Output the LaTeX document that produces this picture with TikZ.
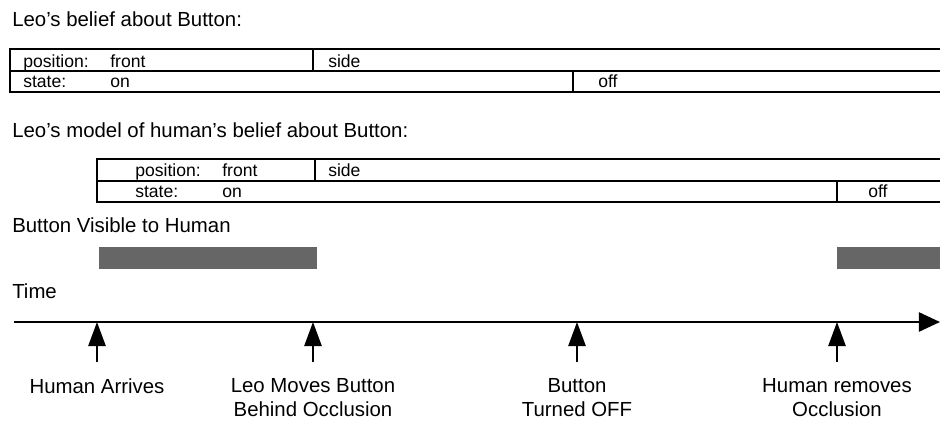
\documentclass[tikz,border=0pt]{standalone}
\usepackage{fontspec}
\setmainfont{Liberation Sans}
\usetikzlibrary{arrows.meta, positioning}

\begin{document}
\begin{tikzpicture}[
  x=0.025cm, y=-0.025cm,
  title/.style={anchor=base west, inner sep=0pt, font=\fontsize{14.5}{17.7}\selectfont},
  cell/.style={anchor=base west, inner sep=0pt, font=\fontsize{12.5}{14}\selectfont},
  rule/.style={line width=1.4pt},
  seen/.style={fill=black!60, draw=none},
  event/.style={anchor=north, align=center, inner sep=0pt, font=\fontsize{14.5}{17.3}\selectfont},
  axis/.style={line width=1.6pt, -{Triangle[length=0.53cm, width=0.48cm]}},
  tick/.style={line width=1.4pt, -{Triangle[length=0.6cm, width=0.43cm]}}
]
\useasboundingbox (0,0) rectangle (940,421);

\node (belief) [title] at (12,26) {Leo's belief about Button:};
\draw [rule] (940,49) -- (10,49) -- (10,92) -- (940,92);
\draw [rule] (10,71) -- (940,71);
\draw [rule] (313,49) -- (313,71);
\draw [rule] (573,71) -- (573,92);
\node (pos1) [cell] at (23,67) {position:};
\node (front1) [cell] at (110,67) {front};
\node (side1) [cell] at (328,67) {side};
\node (state1) [cell] at (23,87.5) {state:};
\node (on1) [cell] at (110,87.5) {on};
\node (off1) [cell] at (598,87.5) {off};

\node (model) [title] at (12,137) {Leo's model of human's belief about Button:};
\draw [rule] (940,159) -- (97,159) -- (97,202) -- (940,202);
\draw [rule] (97,181) -- (940,181);
\draw [rule] (315,159) -- (315,181);
\draw [rule] (837,181) -- (837,202);
\node (pos2) [cell] at (135,176.5) {position:};
\node (front2) [cell] at (222,176.5) {front};
\node (side2) [cell] at (328,176.5) {side};
\node (state2) [cell] at (135,197) {state:};
\node (on2) [cell] at (222,197) {on};
\node (off2) [cell] at (868,197) {off};

\node (visible) [title] at (12,232) {Button Visible to Human};
\fill [seen] (99,247) rectangle (317,269);
\fill [seen] (837,247) rectangle (940,269);

\node (time) [title] at (12,298) {Time};
\coordinate (start) at (14,322);
\coordinate (stop) at (940,322);
\draw [axis] (start) -- (stop);

\coordinate (t1) at (97,322);
\coordinate (t2) at (313,322);
\coordinate (t3) at (577,322);
\coordinate (t4) at (837,322);
\node (arrive) [event] at (97,378) {Human Arrives};
\node (move) [event] at (313,378) {Leo Moves Button\\Behind Occlusion};
\node (turn) [event] at (577,378) {Button\\Turned OFF};
\node (remove) [event] at (837,378) {Human removes\\Occlusion};

\draw [tick] ([yshift=0.4cm]arrive.north) -- (t1);
\draw [tick] ([yshift=0.4cm]move.north) -- (t2);
\draw [tick] ([yshift=0.4cm]turn.north) -- (t3);
\draw [tick] ([yshift=0.4cm]remove.north) -- (t4);
\end{tikzpicture}
\end{document}
